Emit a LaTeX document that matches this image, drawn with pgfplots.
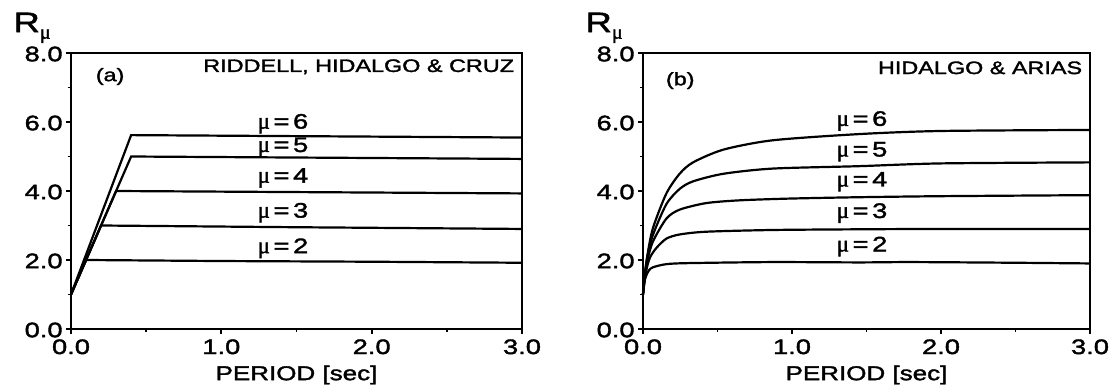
\documentclass[border=0pt]{standalone}
\usepackage{fontspec}
\setmainfont{Liberation Sans}[FakeStretch=1.3, FakeBold=1.8]
\newfontfamily\sym{Liberation Serif}[FakeBold=1.8]
\usepackage{pgfplots}
\pgfplotsset{compat=1.18}
\newcommand{\mul}[1]{{\sym\fontsize{11.5}{11}\selectfont μ}\kern1.8pt=\kern1.8pt#1}
\pgfplotsset{
  myax/.style={
    scale only axis, xmin=0, xmax=3, ymin=0, ymax=8,
    xtick={0,1,2,3}, ytick={0,2,4,6,8},
    xticklabels={0.0,1.0,2.0,3.0}, yticklabels={0.0,2.0,4.0,6.0,8.0},
    minor xtick={0.5,1.5,2.5}, minor ytick={1,3,5,7},
    tick align=outside, xtick pos=bottom, ytick pos=left,
    major tick length=2.5pt, minor tick length=1.5pt,
    axis line style={line width=1pt},
    every tick/.style={line width=0.9pt, black},
    tick label style={font=\fontsize{10.5}{11}\selectfont},
    xticklabel style={inner sep=1pt, yshift=-1.5pt},
    yticklabel style={inner sep=1.5pt, yshift=-0.5pt},
    xlabel={PERIOD [sec]},
    xlabel style={font=\fontsize{10}{10}\selectfont, inner sep=0pt, yshift=-4.5pt},
    ylabel={R\raisebox{-0.45ex}{\fontsize{10}{10}\selectfont\sym μ}},
    every axis y label/.style={at={(rel axis cs:0,1)}, anchor=base east, xshift=-10pt, yshift=10.5pt, font=\fontsize{14}{14}\selectfont, inner sep=0pt},
    cycle list={black, line width=1.1pt, no markers\\},
    clip=false,
  }
}
\begin{document}
\begin{tikzpicture}
\path[use as bounding box] (-35.5pt,-28pt) rectangle (522pt,164.5pt);
\begin{axis}[myax, at={(0pt,0pt)}, anchor=south west, width=225.5pt, height=138pt]
\addplot coordinates {(0,1.0) (0.1,2.0) (1.0,1.97) (2.0,1.95) (3.0,1.92)};
\addplot coordinates {(0,1.0) (0.2,3.0) (1.5,2.95) (3.0,2.90)};
\addplot coordinates {(0,1.0) (0.3,4.0) (3.0,3.93)};
\addplot coordinates {(0,1.0) (0.4,5.0) (3.0,4.93)};
\addplot coordinates {(0,1.0) (0.4,5.62) (3.0,5.55)};
\begin{scope}[every node/.style={font=\fontsize{10.5}{11}\selectfont, inner sep=0pt}]
\node at (axis cs:1.41,5.95) {\mul{6}};
\node at (axis cs:1.41,5.27) {\mul{5}};
\node at (axis cs:1.41,4.38) {\mul{4}};
\node at (axis cs:1.41,3.37) {\mul{3}};
\node at (axis cs:1.41,2.34) {\mul{2}};
\node[anchor=east, font=\fontsize{9}{10}\selectfont] at (axis cs:2.95,7.6) {RIDDELL, HIDALGO \& CRUZ};
\node[font=\fontsize{9}{10}\selectfont] at (axis cs:0.26,7.32) {(a)};
\end{scope}
\end{axis}
\begin{axis}[myax, at={(286pt,0pt)}, anchor=south west, width=223.5pt, height=138pt, every axis plot/.append style={smooth, tension=0.45}]
\addplot coordinates {(0,1.0) (0.01,1.35) (0.02,1.53) (0.04,1.70) (0.067,1.79) (0.157,1.88) (0.31,1.91) (0.87,1.94) (1.45,1.93) (1.8,1.94) (2.5,1.92) (3.0,1.90)};
\addplot coordinates {(0,1.0) (0.01,1.40) (0.03,1.85) (0.05,2.10) (0.09,2.35) (0.157,2.62) (0.246,2.74) (0.425,2.82) (0.87,2.87) (1.45,2.89) (2.0,2.90) (3.0,2.90)};
\addplot coordinates {(0,1.0) (0.01,1.45) (0.03,2.00) (0.067,2.54) (0.157,3.20) (0.246,3.46) (0.425,3.65) (0.65,3.73) (0.98,3.78) (1.45,3.82) (2.0,3.85) (3.0,3.88)};
\addplot coordinates {(0,1.0) (0.01,1.50) (0.03,2.10) (0.067,2.73) (0.157,3.62) (0.246,4.06) (0.336,4.28) (0.54,4.50) (0.87,4.65) (1.45,4.72) (2.0,4.80) (3.0,4.83)};
\addplot coordinates {(0,1.0) (0.01,1.50) (0.03,2.15) (0.067,2.93) (0.157,3.93) (0.246,4.50) (0.336,4.83) (0.54,5.20) (0.87,5.47) (1.45,5.65) (2.0,5.74) (3.0,5.77)};
\begin{scope}[every node/.style={font=\fontsize{10.5}{11}\selectfont, inner sep=0pt}]
\node at (axis cs:1.47,6.03) {\mul{6}};
\node at (axis cs:1.47,5.14) {\mul{5}};
\node at (axis cs:1.47,4.27) {\mul{4}};
\node at (axis cs:1.47,3.36) {\mul{3}};
\node at (axis cs:1.47,2.39) {\mul{2}};
\node[anchor=east, font=\fontsize{9}{10}\selectfont] at (axis cs:2.95,7.57) {HIDALGO \& ARIAS};
\node[font=\fontsize{9}{10}\selectfont] at (axis cs:0.25,7.2) {(b)};
\end{scope}
\end{axis}
\end{tikzpicture}
\end{document}
